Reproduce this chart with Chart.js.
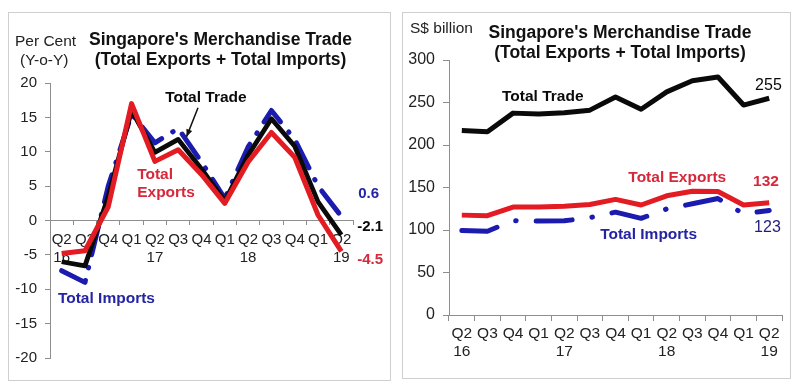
<!DOCTYPE html>
<html><head><meta charset="utf-8">
<script src="https://cdn.jsdelivr.net/npm/chart.js@4/dist/chart.umd.min.js"></script>
<style>
html,body{margin:0;padding:0;background:#fff;}
#wrap{position:relative;width:800px;height:391px;overflow:hidden;background:#fff;}
.panel{position:absolute;border:1px solid #cfcfcf;box-sizing:border-box;}
canvas{position:absolute;top:0;}
</style></head><body>
<div id="wrap">
<div class="panel" style="left:8px;top:12px;width:383px;height:369px"></div>
<div class="panel" style="left:402px;top:12px;width:389px;height:367px"></div>
<canvas id="c1" width="400" height="391" style="left:0;width:400px;height:391px"></canvas>
<canvas id="c2" width="400" height="391" style="left:400px;width:400px;height:391px"></canvas>
</div>
<script>
// ---- data ----
const quarters = [["Q2","16"],["Q3",""],["Q4",""],["Q1",""],["Q2","17"],["Q3",""],["Q4",""],["Q1",""],["Q2","18"],["Q3",""],["Q4",""],["Q1",""],["Q2","19"]];

// Year-on-year growth, per cent
const growthTrade   = [-6.0,-6.6,3.5,16.0,9.9,11.8,7.5,2.8,9.5,14.8,10.8,2.7,-2.1];
const growthExports = [-4.8,-4.4,2.0,17.0,8.6,10.3,6.7,2.5,8.5,12.8,9.2,0.8,-4.5];
const growthImports = [-7.3,-9.0,5.0,15.5,11.3,13.4,8.5,3.2,10.7,16.0,11.8,5.0,0.6];

// Levels, S$ billion
const levelTrade   = [217,215.5,237.5,236.5,238,241,256.5,242,262.5,275.5,280,247,255];
const levelExports = [117.5,116.8,127,127,128,130,136,129.4,140.2,145.5,145.3,129.4,132];
const levelImports = [99.5,98.5,111,110.6,110.8,114.5,121,113.7,124.8,130.8,137,119,123];

const growthAxis = {min:-20, max:20, step:5};
const levelAxis  = {min:0, max:300, step:50};

// ---- styles ----
const FF = "'Liberation Sans', Arial, sans-serif";
const BLACK = '#0a0a0a', RED = '#e31b23', BLUE = '#1b1bb0';
const RED_T = '#d6283a', BLUE_T = '#2424a4';
const AXIS = '#8e8e8e', TICK = '#222';

const annoPlugin = {
  id: 'anno',
  afterDatasetsDraw(chart, args, opts) {
    const ctx = chart.ctx, xs = chart.scales.x, ys = chart.scales.y;
    ctx.save();
    ctx.textBaseline = 'middle';
    (opts.fixed || []).forEach(t => {
      ctx.font = t.font; ctx.fillStyle = t.color || TICK; ctx.textAlign = t.align || 'left';
      ctx.fillText(t.text, t.x, t.y);
    });
    (opts.texts || []).forEach(t => {
      ctx.font = t.font; ctx.fillStyle = t.color; ctx.textAlign = 'left';
      ctx.fillText(t.text, xs.getPixelForValue(t.xi), ys.getPixelForValue(t.yv));
    });
    (opts.arrows || []).forEach(a => {
      const x1 = xs.getPixelForValue(a.from[0]), y1 = ys.getPixelForValue(a.from[1]);
      const x2 = xs.getPixelForValue(a.to[0]), y2 = ys.getPixelForValue(a.to[1]);
      ctx.strokeStyle = '#111'; ctx.fillStyle = '#111'; ctx.lineWidth = 1.5;
      ctx.beginPath(); ctx.moveTo(x1, y1); ctx.lineTo(x2, y2); ctx.stroke();
      const ang = Math.atan2(y2 - y1, x2 - x1), L = 8, W = 0.4;
      ctx.beginPath(); ctx.moveTo(x2, y2);
      ctx.lineTo(x2 - L * Math.cos(ang - W), y2 - L * Math.sin(ang - W));
      ctx.lineTo(x2 - L * Math.cos(ang + W), y2 - L * Math.sin(ang + W));
      ctx.closePath(); ctx.fill();
    });
    ctx.restore();
  }
};

function ds(label, data, color, width, order, dash) {
  return {label, data, borderColor: color, backgroundColor: color, borderWidth: width,
    pointRadius: 0, tension: 0, order, borderJoinStyle: 'round',
    borderCapStyle: dash ? 'round' : 'butt', borderDash: dash || []};
}

const bold = s => `bold ${s}px ${FF}`;
const reg = s => `${s}px ${FF}`;

// ---- left chart ----
new Chart(document.getElementById('c1'), {
  type: 'line',
  data: {labels: quarters, datasets: [
    ds('Total Imports', growthImports, BLUE, 5, 3, [28,13,0.5,13]),
    ds('Total Trade', growthTrade, BLACK, 4.8, 2),
    ds('Total Exports', growthExports, RED, 5, 1)
  ]},
  options: {
    responsive: false, animation: false, devicePixelRatio: 1,
    layout: {padding: {left: 0, right: 47, top: 83, bottom: 33}},
    plugins: {legend: {display: false}, tooltip: {enabled: false},
      anno: {
        fixed: [
          {text: "Singapore's Merchandise Trade", x: 220.5, y: 40, font: bold(17.5), align: 'center', color: '#111'},
          {text: "(Total Exports + Total Imports)", x: 220.5, y: 60, font: bold(17.5), align: 'center', color: '#111'},
          {text: 'Per Cent', x: 15, y: 42, font: reg(15.5)},
          {text: '(Y-o-Y)', x: 20, y: 61, font: reg(15.5)}
        ],
        texts: [
          {text: 'Total Trade', xi: 4.44, yv: 17.8, font: bold(15.5), color: BLACK},
          {text: 'Total', xi: 3.24, yv: 6.6, font: bold(15.5), color: RED_T},
          {text: 'Exports', xi: 3.24, yv: 4.0, font: bold(15.5), color: RED_T},
          {text: 'Total Imports', xi: -0.16, yv: -11.4, font: bold(15.5), color: BLUE_T},
          {text: '0.6', xi: 12.72, yv: 3.85, font: bold(15), color: BLUE_T},
          {text: '-2.1', xi: 12.68, yv: -0.95, font: bold(15), color: BLACK},
          {text: '-4.5', xi: 12.68, yv: -5.75, font: bold(15), color: RED_T}
        ],
        arrows: [{from: [5.85, 16.4], to: [5.36, 12.2]}]
      }
    },
    scales: {
      x: {type: 'category', offset: true, position: {y: 0},
        grid: {drawOnChartArea: false, drawTicks: true, tickLength: 4, offset: true, color: AXIS},
        border: {display: true, color: AXIS, width: 1},
        ticks: {autoSkip: false, maxRotation: 0, minRotation: 0, padding: 7, color: TICK,
          font: {size: 15, family: FF, lineHeight: 1.15}}},
      y: {min: growthAxis.min, max: growthAxis.max,
        grid: {drawOnChartArea: false, drawTicks: true, tickLength: 5, color: AXIS},
        border: {display: true, color: AXIS, width: 1},
        ticks: {stepSize: growthAxis.step, padding: 8, color: TICK, font: {size: 15, family: FF}},
        afterFit(s) { s.width = 50; }}
    }
  },
  plugins: [annoPlugin]
});

// ---- right chart ----
new Chart(document.getElementById('c2'), {
  type: 'line',
  data: {labels: quarters, datasets: [
    ds('Total Imports', levelImports, BLUE, 5, 3, [36,20,0.5,20]),
    ds('Total Trade', levelTrade, BLACK, 5, 2),
    ds('Total Exports', levelExports, RED, 5, 1)
  ]},
  options: {
    responsive: false, animation: false, devicePixelRatio: 1,
    layout: {padding: {left: 0, right: 18, top: 60, bottom: 0}},
    plugins: {legend: {display: false}, tooltip: {enabled: false},
      anno: {
        fixed: [
          {text: "Singapore's Merchandise Trade", x: 220, y: 33, font: bold(17.5), align: 'center', color: '#111'},
          {text: "(Total Exports + Total Imports)", x: 220, y: 53, font: bold(17.5), align: 'center', color: '#111'},
          {text: 'S$ billion', x: 10, y: 29, font: reg(15.5)}
        ],
        texts: [
          {text: 'Total Trade', xi: 1.57, yv: 256.5, font: bold(15.5), color: BLACK},
          {text: '255', xi: 11.45, yv: 269.4, font: reg(16), color: BLACK},
          {text: 'Total Exports', xi: 6.5, yv: 161.2, font: bold(15.5), color: RED_T},
          {text: '132', xi: 11.37, yv: 156.5, font: bold(15.5), color: RED_T},
          {text: 'Total Imports', xi: 5.4, yv: 94.1, font: bold(15.5), color: BLUE_T},
          {text: '123', xi: 11.41, yv: 102.4, font: reg(16), color: '#1f1f7a'}
        ]
      }
    },
    scales: {
      x: {type: 'category', offset: true, position: 'bottom',
        grid: {drawOnChartArea: false, drawTicks: true, tickLength: 6, offset: true, color: AXIS},
        border: {display: true, color: AXIS, width: 1},
        ticks: {autoSkip: false, maxRotation: 0, minRotation: 0, padding: 4, color: TICK,
          font: {size: 15.5, family: FF, lineHeight: 1.15}},
        afterFit(s) { s.height = 76; }},
      y: {min: levelAxis.min, max: levelAxis.max,
        grid: {drawOnChartArea: false, drawTicks: true, tickLength: 6, color: AXIS},
        border: {display: true, color: AXIS, width: 1},
        ticks: {stepSize: levelAxis.step, padding: 8, color: TICK, font: {size: 16, family: FF}},
        afterFit(s) { s.width = 49; }}
    }
  },
  plugins: [annoPlugin]
});
</script>
</body></html>
